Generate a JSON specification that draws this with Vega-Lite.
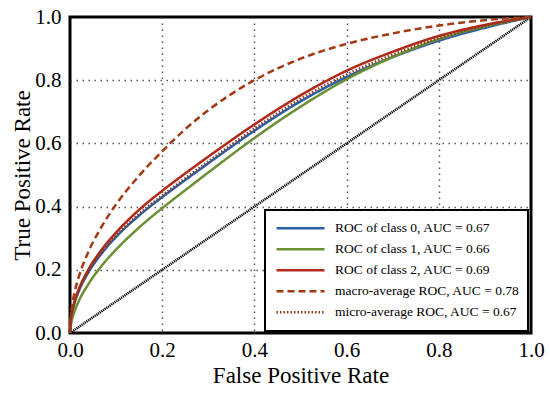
{
  "$schema": "https://vega.github.io/schema/vega-lite/v6.json",
  "width": 461,
  "height": 316,
  "autosize": {"type": "none"},
  "padding": {"left": 70, "top": 17, "right": 19, "bottom": 60},
  "background": "white",
  "config": {
    "view": {"stroke": "black", "strokeWidth": 3},
    "font": "Liberation Serif",
    "axis": {
      "domain": false,
      "ticks": false,
      "labelFont": "Liberation Serif",
      "titleFont": "Liberation Serif",
      "labelFontSize": 21,
      "labelColor": "black",
      "labelFlush": false,
      "labelOverlap": false,
      "titleFontSize": 23,
      "titleFontWeight": "normal",
      "titleColor": "black",
      "grid": true,
      "gridDash": [1.5, 4.5],
      "gridColor": "#555555",
      "gridWidth": 1.5
    },
    "legend": {"labelFont": "Liberation Serif"}
  },
  "datasets": {
    "diag": [{"fpr": 0, "tpr": 0}, {"fpr": 1, "tpr": 1}],
    "curves": [
      {"series": "ROC of class 0, AUC = 0.67", "fpr": 0, "tpr": 0},
      {"series": "ROC of class 0, AUC = 0.67", "fpr": 0.002, "tpr": 0.043},
      {"series": "ROC of class 0, AUC = 0.67", "fpr": 0.005, "tpr": 0.068},
      {"series": "ROC of class 0, AUC = 0.67", "fpr": 0.01, "tpr": 0.096},
      {"series": "ROC of class 0, AUC = 0.67", "fpr": 0.02, "tpr": 0.136},
      {"series": "ROC of class 0, AUC = 0.67", "fpr": 0.04, "tpr": 0.192},
      {"series": "ROC of class 0, AUC = 0.67", "fpr": 0.07, "tpr": 0.254},
      {"series": "ROC of class 0, AUC = 0.67", "fpr": 0.1, "tpr": 0.304},
      {"series": "ROC of class 0, AUC = 0.67", "fpr": 0.15, "tpr": 0.372},
      {"series": "ROC of class 0, AUC = 0.67", "fpr": 0.2, "tpr": 0.43},
      {"series": "ROC of class 0, AUC = 0.67", "fpr": 0.25, "tpr": 0.484},
      {"series": "ROC of class 0, AUC = 0.67", "fpr": 0.3, "tpr": 0.537},
      {"series": "ROC of class 0, AUC = 0.67", "fpr": 0.4, "tpr": 0.64},
      {"series": "ROC of class 0, AUC = 0.67", "fpr": 0.5, "tpr": 0.733},
      {"series": "ROC of class 0, AUC = 0.67", "fpr": 0.6, "tpr": 0.81},
      {"series": "ROC of class 0, AUC = 0.67", "fpr": 0.7, "tpr": 0.873},
      {"series": "ROC of class 0, AUC = 0.67", "fpr": 0.8, "tpr": 0.925},
      {"series": "ROC of class 0, AUC = 0.67", "fpr": 0.9, "tpr": 0.966},
      {"series": "ROC of class 0, AUC = 0.67", "fpr": 1, "tpr": 1},

      {"series": "ROC of class 1, AUC = 0.66", "fpr": 0, "tpr": 0},
      {"series": "ROC of class 1, AUC = 0.66", "fpr": 0.002, "tpr": 0.026},
      {"series": "ROC of class 1, AUC = 0.66", "fpr": 0.005, "tpr": 0.046},
      {"series": "ROC of class 1, AUC = 0.66", "fpr": 0.01, "tpr": 0.069},
      {"series": "ROC of class 1, AUC = 0.66", "fpr": 0.02, "tpr": 0.104},
      {"series": "ROC of class 1, AUC = 0.66", "fpr": 0.04, "tpr": 0.155},
      {"series": "ROC of class 1, AUC = 0.66", "fpr": 0.07, "tpr": 0.215},
      {"series": "ROC of class 1, AUC = 0.66", "fpr": 0.1, "tpr": 0.264},
      {"series": "ROC of class 1, AUC = 0.66", "fpr": 0.15, "tpr": 0.334},
      {"series": "ROC of class 1, AUC = 0.66", "fpr": 0.2, "tpr": 0.395},
      {"series": "ROC of class 1, AUC = 0.66", "fpr": 0.25, "tpr": 0.452},
      {"series": "ROC of class 1, AUC = 0.66", "fpr": 0.3, "tpr": 0.508},
      {"series": "ROC of class 1, AUC = 0.66", "fpr": 0.4, "tpr": 0.617},
      {"series": "ROC of class 1, AUC = 0.66", "fpr": 0.5, "tpr": 0.716},
      {"series": "ROC of class 1, AUC = 0.66", "fpr": 0.6, "tpr": 0.803},
      {"series": "ROC of class 1, AUC = 0.66", "fpr": 0.7, "tpr": 0.873},
      {"series": "ROC of class 1, AUC = 0.66", "fpr": 0.8, "tpr": 0.93},
      {"series": "ROC of class 1, AUC = 0.66", "fpr": 0.9, "tpr": 0.97},
      {"series": "ROC of class 1, AUC = 0.66", "fpr": 1, "tpr": 1},

      {"series": "ROC of class 2, AUC = 0.69", "fpr": 0, "tpr": 0},
      {"series": "ROC of class 2, AUC = 0.69", "fpr": 0.002, "tpr": 0.045},
      {"series": "ROC of class 2, AUC = 0.69", "fpr": 0.005, "tpr": 0.071},
      {"series": "ROC of class 2, AUC = 0.69", "fpr": 0.01, "tpr": 0.101},
      {"series": "ROC of class 2, AUC = 0.69", "fpr": 0.02, "tpr": 0.142},
      {"series": "ROC of class 2, AUC = 0.69", "fpr": 0.04, "tpr": 0.201},
      {"series": "ROC of class 2, AUC = 0.69", "fpr": 0.07, "tpr": 0.266},
      {"series": "ROC of class 2, AUC = 0.69", "fpr": 0.1, "tpr": 0.318},
      {"series": "ROC of class 2, AUC = 0.69", "fpr": 0.15, "tpr": 0.39},
      {"series": "ROC of class 2, AUC = 0.69", "fpr": 0.2, "tpr": 0.45},
      {"series": "ROC of class 2, AUC = 0.69", "fpr": 0.25, "tpr": 0.505},
      {"series": "ROC of class 2, AUC = 0.69", "fpr": 0.3, "tpr": 0.558},
      {"series": "ROC of class 2, AUC = 0.69", "fpr": 0.4, "tpr": 0.66},
      {"series": "ROC of class 2, AUC = 0.69", "fpr": 0.5, "tpr": 0.752},
      {"series": "ROC of class 2, AUC = 0.69", "fpr": 0.6, "tpr": 0.83},
      {"series": "ROC of class 2, AUC = 0.69", "fpr": 0.7, "tpr": 0.89},
      {"series": "ROC of class 2, AUC = 0.69", "fpr": 0.8, "tpr": 0.94},
      {"series": "ROC of class 2, AUC = 0.69", "fpr": 0.9, "tpr": 0.975},
      {"series": "ROC of class 2, AUC = 0.69", "fpr": 1, "tpr": 1},

      {"series": "macro-average ROC, AUC = 0.78", "fpr": 0, "tpr": 0},
      {"series": "macro-average ROC, AUC = 0.78", "fpr": 0.002, "tpr": 0.058},
      {"series": "macro-average ROC, AUC = 0.78", "fpr": 0.005, "tpr": 0.091},
      {"series": "macro-average ROC, AUC = 0.78", "fpr": 0.01, "tpr": 0.129},
      {"series": "macro-average ROC, AUC = 0.78", "fpr": 0.02, "tpr": 0.182},
      {"series": "macro-average ROC, AUC = 0.78", "fpr": 0.04, "tpr": 0.257},
      {"series": "macro-average ROC, AUC = 0.78", "fpr": 0.07, "tpr": 0.34},
      {"series": "macro-average ROC, AUC = 0.78", "fpr": 0.1, "tpr": 0.407},
      {"series": "macro-average ROC, AUC = 0.78", "fpr": 0.15, "tpr": 0.498},
      {"series": "macro-average ROC, AUC = 0.78", "fpr": 0.2, "tpr": 0.575},
      {"series": "macro-average ROC, AUC = 0.78", "fpr": 0.25, "tpr": 0.645},
      {"series": "macro-average ROC, AUC = 0.78", "fpr": 0.3, "tpr": 0.705},
      {"series": "macro-average ROC, AUC = 0.78", "fpr": 0.4, "tpr": 0.8},
      {"series": "macro-average ROC, AUC = 0.78", "fpr": 0.5, "tpr": 0.868},
      {"series": "macro-average ROC, AUC = 0.78", "fpr": 0.6, "tpr": 0.915},
      {"series": "macro-average ROC, AUC = 0.78", "fpr": 0.7, "tpr": 0.948},
      {"series": "macro-average ROC, AUC = 0.78", "fpr": 0.8, "tpr": 0.973},
      {"series": "macro-average ROC, AUC = 0.78", "fpr": 0.9, "tpr": 0.99},
      {"series": "macro-average ROC, AUC = 0.78", "fpr": 1, "tpr": 1},

      {"series": "micro-average ROC, AUC = 0.67", "fpr": 0, "tpr": 0},
      {"series": "micro-average ROC, AUC = 0.67", "fpr": 0.002, "tpr": 0.044},
      {"series": "micro-average ROC, AUC = 0.67", "fpr": 0.005, "tpr": 0.069},
      {"series": "micro-average ROC, AUC = 0.67", "fpr": 0.01, "tpr": 0.097},
      {"series": "micro-average ROC, AUC = 0.67", "fpr": 0.02, "tpr": 0.138},
      {"series": "micro-average ROC, AUC = 0.67", "fpr": 0.04, "tpr": 0.195},
      {"series": "micro-average ROC, AUC = 0.67", "fpr": 0.07, "tpr": 0.258},
      {"series": "micro-average ROC, AUC = 0.67", "fpr": 0.1, "tpr": 0.308},
      {"series": "micro-average ROC, AUC = 0.67", "fpr": 0.15, "tpr": 0.377},
      {"series": "micro-average ROC, AUC = 0.67", "fpr": 0.2, "tpr": 0.435},
      {"series": "micro-average ROC, AUC = 0.67", "fpr": 0.25, "tpr": 0.49},
      {"series": "micro-average ROC, AUC = 0.67", "fpr": 0.3, "tpr": 0.543},
      {"series": "micro-average ROC, AUC = 0.67", "fpr": 0.4, "tpr": 0.647},
      {"series": "micro-average ROC, AUC = 0.67", "fpr": 0.5, "tpr": 0.741},
      {"series": "micro-average ROC, AUC = 0.67", "fpr": 0.6, "tpr": 0.818},
      {"series": "micro-average ROC, AUC = 0.67", "fpr": 0.7, "tpr": 0.881},
      {"series": "micro-average ROC, AUC = 0.67", "fpr": 0.8, "tpr": 0.933},
      {"series": "micro-average ROC, AUC = 0.67", "fpr": 0.9, "tpr": 0.971},
      {"series": "micro-average ROC, AUC = 0.67", "fpr": 1, "tpr": 1}
    ]
  },
  "layer": [
    {
      "data": {"name": "diag"},
      "mark": {"type": "line", "color": "black", "strokeDash": [1.2, 0.8], "strokeWidth": 2.5},
      "encoding": {
        "x": {
          "field": "fpr", "type": "quantitative",
          "scale": {"domain": [0, 1], "nice": false, "zero": false},
          "axis": {
            "title": "False Positive Rate",
            "values": [0, 0.2, 0.4, 0.6, 0.8, 1],
            "format": ".1f",
            "labelPadding": 6,
            "titlePadding": 4,
            "gridOpacity": {"condition": {"test": "datum.value == 0 || datum.value == 1", "value": 0}, "value": 1}
          }
        },
        "y": {
          "field": "tpr", "type": "quantitative",
          "scale": {"domain": [0, 1], "nice": false, "zero": false},
          "axis": {
            "title": "True Positive Rate",
            "values": [0, 0.2, 0.4, 0.6, 0.8, 1],
            "format": ".1f",
            "labelPadding": 9,
            "titlePadding": 0,
            "gridOpacity": {"condition": {"test": "datum.value == 0 || datum.value == 1", "value": 0}, "value": 1}
          }
        }
      }
    },
    {
      "data": {"name": "curves"},
      "mark": {"type": "line", "interpolate": "monotone", "strokeWidth": 2.5},
      "encoding": {
        "x": {"field": "fpr", "type": "quantitative"},
        "y": {"field": "tpr", "type": "quantitative"},
        "color": {
          "field": "series", "type": "nominal",
          "scale": {
            "domain": ["ROC of class 0, AUC = 0.67", "ROC of class 1, AUC = 0.66", "ROC of class 2, AUC = 0.69", "macro-average ROC, AUC = 0.78", "micro-average ROC, AUC = 0.67"],
            "range": ["#2c5fa8", "#6b8f33", "#b0281a", "#a33a16", "#8b3a1a"]
          },
          "legend": {
            "title": null,
            "orient": "none",
            "legendX": 195,
            "legendY": 193,
            "symbolType": "stroke",
            "symbolSize": 2304,
            "symbolStrokeWidth": 2.5,
            "symbolOffset": 2,
            "clipHeight": 20.7,
            "rowPadding": 0,
            "labelFont": "Liberation Serif",
            "labelFontSize": 13.5,
            "labelColor": "black",
            "labelOffset": 9,
            "labelLimit": 300,
            "padding": 8,
            "strokeColor": "black",
            "fillColor": "white",
            "encode": {
              "legend": {"update": {"strokeWidth": {"value": 2}}}
            }
          }
        },
        "strokeDash": {
          "field": "series", "type": "nominal",
          "scale": {
            "domain": ["ROC of class 0, AUC = 0.67", "ROC of class 1, AUC = 0.66", "ROC of class 2, AUC = 0.69", "macro-average ROC, AUC = 0.78", "micro-average ROC, AUC = 0.67"],
            "range": [[1, 0], [1, 0], [1, 0], [7, 4], [1.5, 2]]
          }
        }
      }
    }
  ]
}
